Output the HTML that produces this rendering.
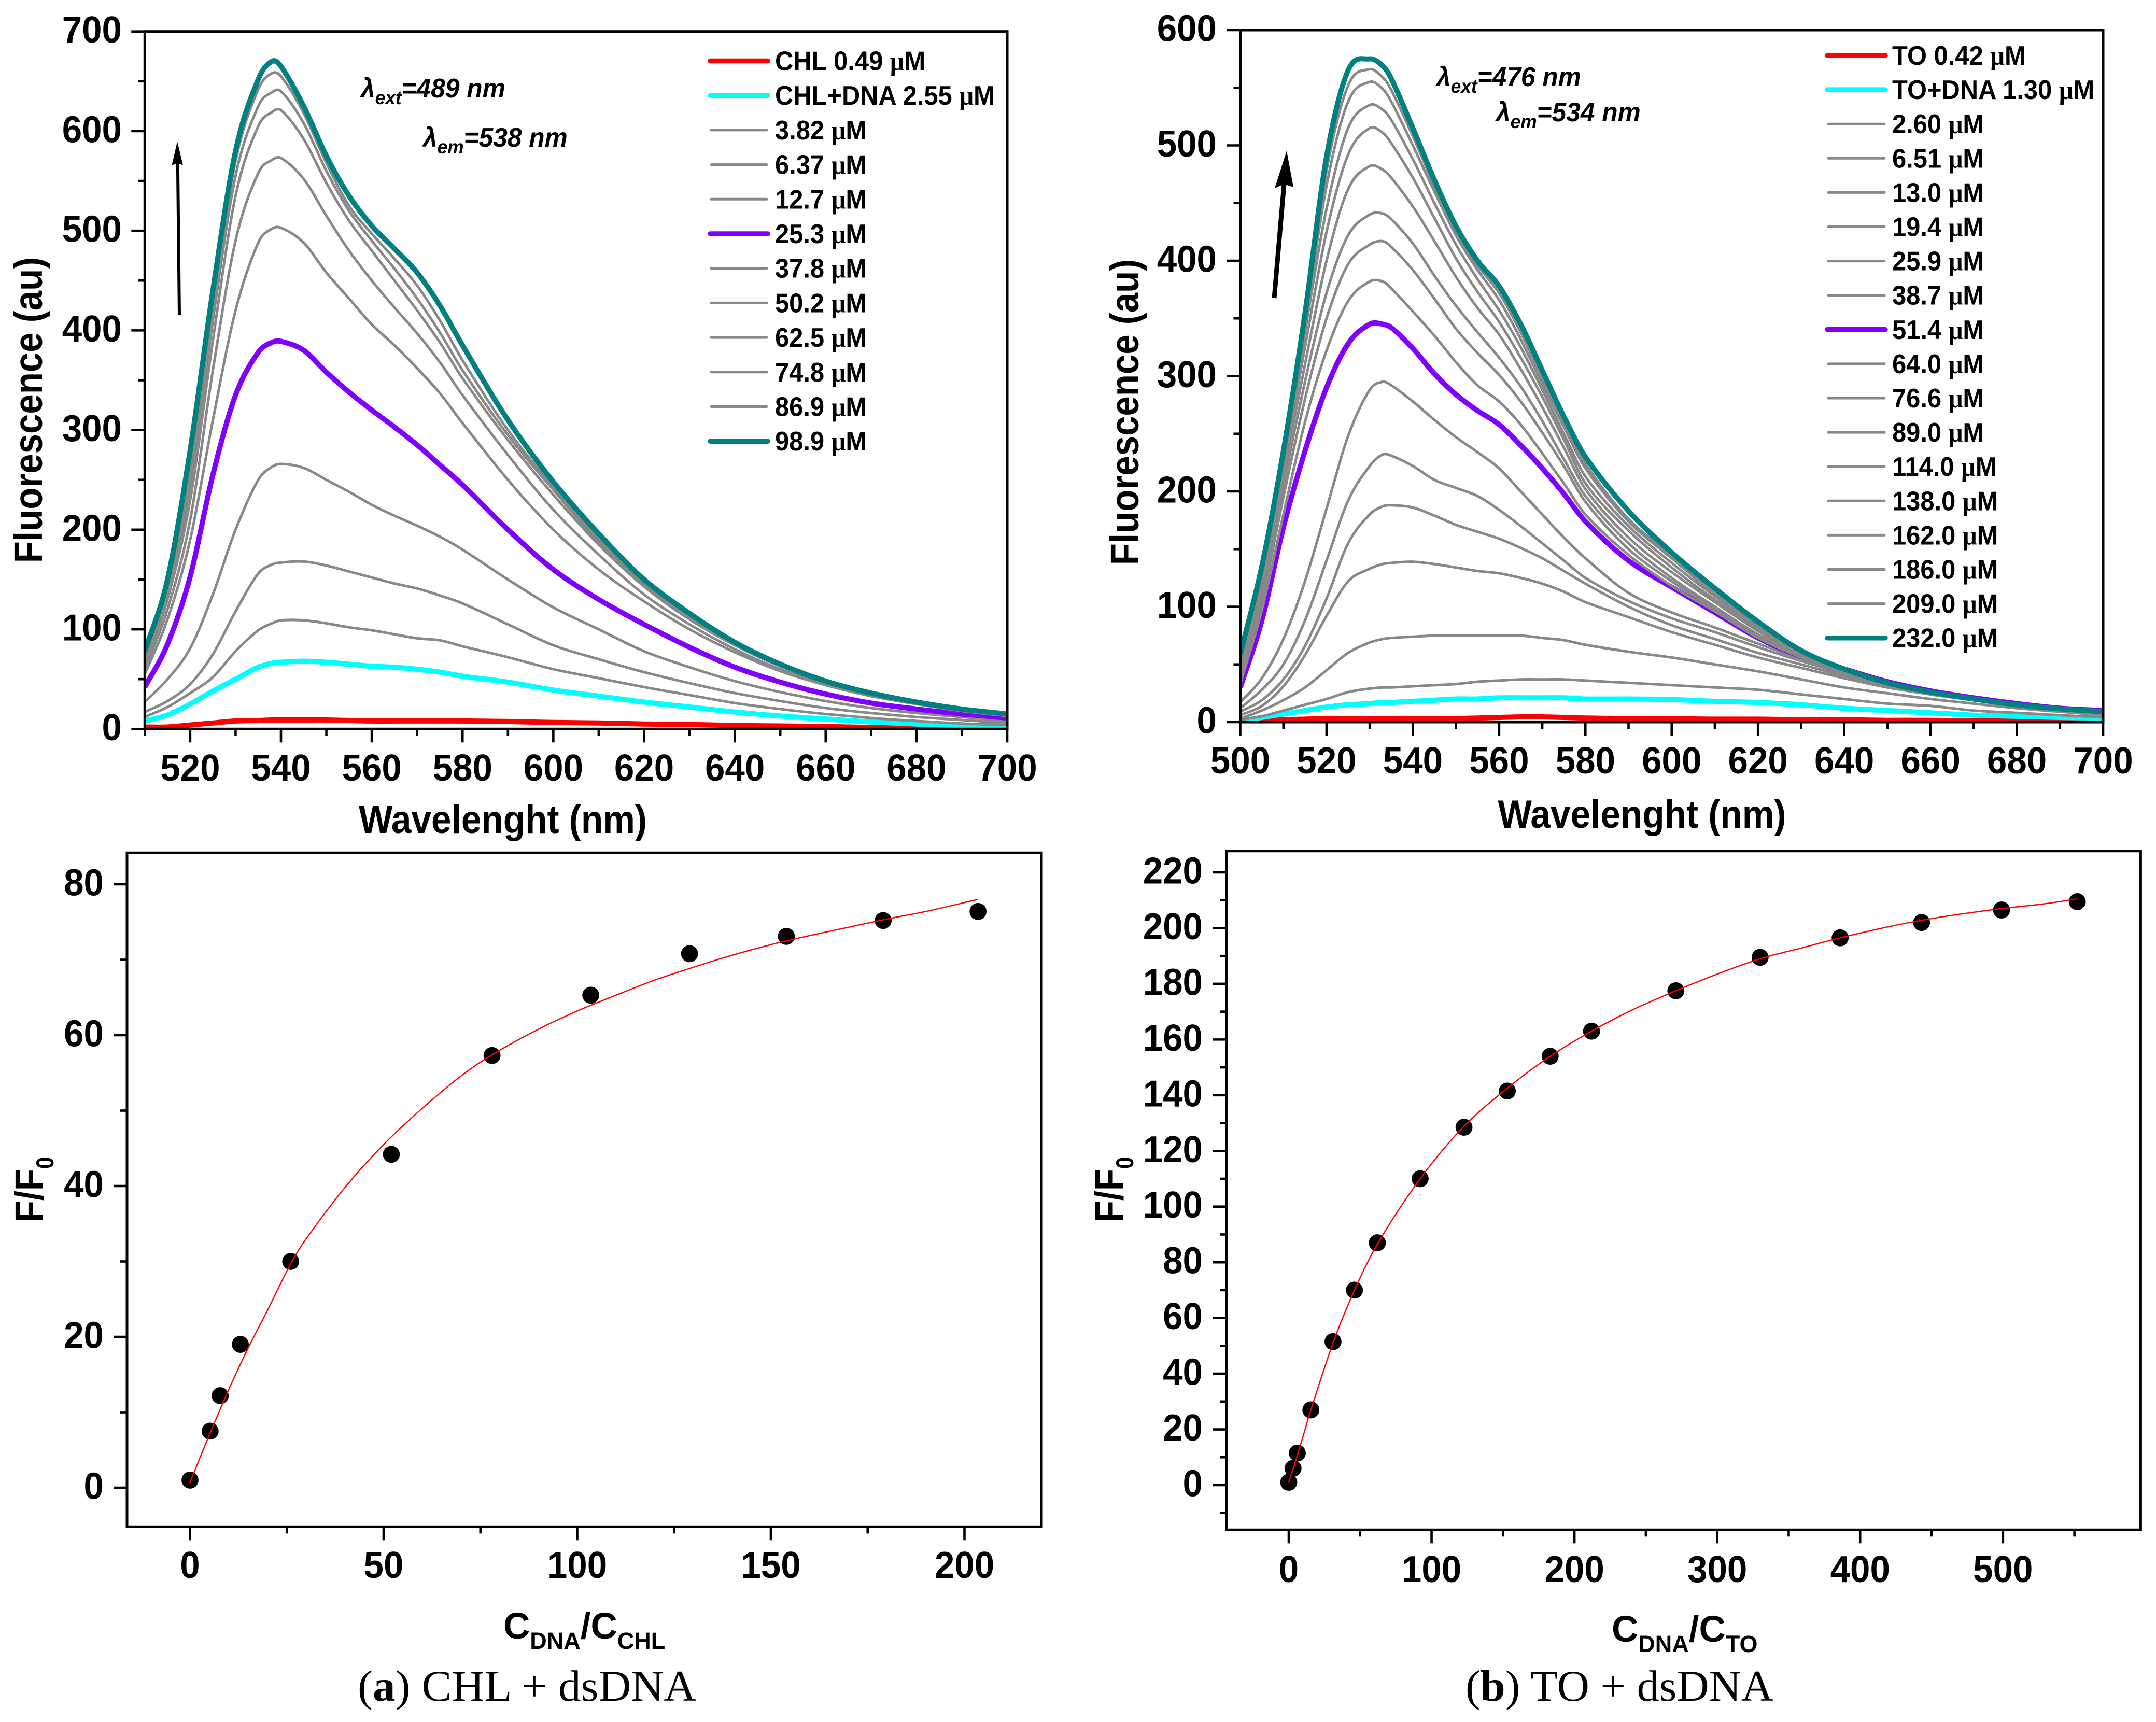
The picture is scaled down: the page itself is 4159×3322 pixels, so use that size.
<!DOCTYPE html>
<html lang="en">
<head>
<meta charset="utf-8">
<title>Fluorescence titration of CHL and TO with dsDNA</title>
<style>
html,body{margin:0;padding:0;background:#fff;}
svg{display:block;}
text{font-family:"Liberation Sans",Arial,sans-serif;font-weight:bold;fill:#000;}
.cap{font-family:"Liberation Serif",serif;font-weight:normal;}
</style>
</head>
<body>
<svg id="fig" xmlns="http://www.w3.org/2000/svg" width="4159" height="3322" viewBox="0 0 4159 3322">
<rect x="0" y="0" width="4159" height="3322" fill="#fff"/>
<g id="panelA"></g>
<g id="panelB"></g>
<g id="panelC"></g>
<g id="panelD"></g>

<text font-size="69" text-anchor="middle" transform="translate(81,791) rotate(-90) scale(1,1.12)">Fluorescence (au)</text>
<text font-size="69" text-anchor="middle" transform="translate(2196,795) rotate(-90) scale(1,1.12)">Fluorescence (au)</text>
<text font-size="69" text-anchor="middle" transform="translate(970,1607) scale(1.005,1.1)">Wavelenght (nm)</text>
<text font-size="69" text-anchor="middle" transform="translate(3167.5,1597) scale(1.005,1.1)">Wavelenght (nm)</text>

<text font-size="69" text-anchor="middle" transform="translate(83,2295) rotate(-90) scale(1,1.12)">F/F<tspan font-size="42" dy="18">0</tspan></text>
<text font-size="69" text-anchor="middle" transform="translate(2166,2295) rotate(-90) scale(1,1.12)">F/F<tspan font-size="42" dy="18">0</tspan></text>
<text font-size="71" x="971" y="3161">C<tspan font-size="45" dy="20">DNA</tspan><tspan dy="-20">/C</tspan><tspan font-size="45" dy="20">CHL</tspan></text>
<text font-size="71" x="3109" y="3167">C<tspan font-size="45" dy="20">DNA</tspan><tspan dy="-20">/C</tspan><tspan font-size="45" dy="20">TO</tspan></text>

<g>
<text font-size="52" font-style="italic" transform="translate(696,188) scale(.955,1)">λ<tspan font-size="37" dy="13">ext</tspan><tspan dy="-13">=489 nm</tspan></text>
<text font-size="52" font-style="italic" transform="translate(816,283) scale(.955,1)">λ<tspan font-size="37" dy="13">em</tspan><tspan dy="-13">=538 nm</tspan></text>
</g>
<g>
<text font-size="52" font-style="italic" transform="translate(2771,166) scale(.955,1)">λ<tspan font-size="37" dy="13">ext</tspan><tspan dy="-13">=476 nm</tspan></text>
<text font-size="52" font-style="italic" transform="translate(2886,234) scale(.955,1)">λ<tspan font-size="37" dy="13">em</tspan><tspan dy="-13">=534 nm</tspan></text>
</g>

<g>
<line x1="346" y1="608" x2="342.8" y2="312" stroke="#000" stroke-width="6"/>
<polygon points="342,273 353,319 342.5,314 331.5,319" fill="#000"/>
</g>
<g>
<line x1="2458" y1="575" x2="2477" y2="355" stroke="#000" stroke-width="9"/>
<polygon points="2482,291 2495,361 2477,355 2459,363" fill="#000"/>
</g>

<text class="cap" font-size="85" transform="translate(690,3281) scale(1.025,1)">(<tspan font-weight="bold">a</tspan>) CHL + dsDNA</text>
<text class="cap" font-size="85" transform="translate(2827,3281) scale(1.015,1)">(<tspan font-weight="bold">b</tspan>) TO + dsDNA</text>
</svg>

<script>
// ---------- Panel A data: CHL emission spectra ----------
const wavelengthsA = [510,515,520,525,530,535,538,540,545,550,555,560,565,570,575,580,590,600,610,620,630,640,650,660,670,680,690,700];
const chlBase  = [2,2,4,6,8,8.5,9,9,9,9,8.5,8,8,8,8,8,7.5,6.5,6,5,4.5,3.5,3,2.5,1.5,1,1,1];
const chlDna   = [8,14,25,38,50,62,66,67,68,67,65,63,62,60,57,53,47,39,33,27,22,17,13,10,7,5,3.5,2];
const chl382   = [12,22,36,52,78,99,106,109,109,106,102,99,95,91,89,83,72,60,51,42,34,26,20,15,11,8,5.5,4];
const chl637   = [17,28,45,75,118,156,165,167,168,164,158,152,146,141,134,126,105,84,70,57,46,36,28,21,16,12,9,6];
const chl127   = [27,50,81,135,200,250,263,266,262,250,238,225,214,204,193,180,150,122,100,78,62,48,37,28,21,16,12,8];
const chl253   = [42,85,153,255,335,378,388,389,380,358,338,320,303,285,265,245,200,160,130,105,82,62,47,35,26,20,15,11];
const chl378   = [55,110,190,310,420,488,502,503,488,458,432,406,385,362,337,307,250,200,160,128,100,77,58,44,33,25,18,13];
const chl502   = [60,120,210,360,490,558,571,573,552,515,480,450,423,397,368,335,275,220,175,135,105,80,60,46,35,26,19,14];
const chl625   = [65,130,230,390,535,605,619,621,592,548,510,480,450,420,388,352,290,235,185,143,110,84,63,48,36,27,20,14];
const chl748   = [70,135,245,410,555,625,639,640,608,560,520,490,462,432,398,360,295,240,188,146,113,85,64,48,36,27,20,14];
const chl869   = [72,140,260,425,570,642,658,655,618,568,525,497,472,445,410,370,300,243,191,148,114,86,64,48,36,27,20,14];
const chl989   = [78,150,280,440,580,652,670,665,625,575,535,505,482,458,425,385,310,248,196,150,116,87,65,48,36,27,20,15];
const seriesA  = [chlBase,chlDna,chl382,chl637,chl127,chl253,chl378,chl502,chl625,chl748,chl869,chl989];
const legendA  = ['CHL 0.49','CHL+DNA 2.55','3.82','6.37','12.7','25.3','37.8','50.2','62.5','74.8','86.9','98.9'];
const xMajorA  = [520,540,560,580,600,620,640,660,680,700];
const xMinorA  = [510,530,550,570,590,610,630,650,670,690];
const yMajorA  = [0,100,200,300,400,500,600,700];
const yMinorA  = [50,150,250,350,450,550,650];

// ---------- Panel B data: TO emission spectra ----------
const wavelengthsB = [500,505,510,515,520,525,530,533,535,540,545,550,555,560,565,570,575,580,590,600,610,620,630,640,650,660,670,680,690,700];
const toBase = [0,1,2,2.5,3,3,3,3,3,3,3,3,3.5,4,4.5,4.5,4,3.5,3,3,2.5,2.5,2,2,1.5,1.5,1,1,1,1];
const toDna  = [1,4,7,10,13,15,16,17,17,18,19,20,20,21,21,21,21,20,20,19.5,18,17,15,12,10,8,6,5,4,3.5];
const to260  = [2,5,10,15,20,26,29,30,30,31,32,33,35,36,37,37,37,36,34,32,30,28,24,20,16,14,10,8,6,4];
const to651  = [3,10,19,30,45,60,69,72,73,74,75,75,75,75,75,73,71,67,61,56,50,44,37,30,25,20,16,12,9,6];
const to130  = [6,14,31,58,92,122,133,137,138,139,137,134,131,129,125,120,113,104,91,78,67,56,47,38,30,24,19,14,10,7];
const to194  = [9,19,37,66,107,155,180,187,188,186,179,171,165,159,151,142,131,120,100,84,72,60,50,40,31,24,19,14,10,7];
const to259  = [12,28,50,88,140,192,222,232,231,222,210,203,196,184,170,155,140,125,105,90,78,65,53,42,33,26,20,15,10,7];
const to387  = [17,38,72,122,185,248,288,295,292,278,262,247,234,220,200,180,160,142,112,95,82,68,55,44,35,27,20,15,11,7.5];
const to514  = [30,88,169,235,290,328,345,345,342,324,302,284,270,258,240,220,198,174,140,117,95,73,57,46,35,27,21,16,12,10];
const to640  = [33,97,180,260,322,365,382,382,376,356,335,312,292,278,258,233,207,180,145,118,96,73,56,43,33,26,20,15,11,8];
const to766  = [37,105,195,280,350,397,414,417,412,392,367,341,320,301,278,251,222,191,150,122,98,75,57,44,33,26,20,15,11,8];
const to890  = [40,110,205,295,372,422,440,441,436,415,387,361,338,316,291,261,228,196,155,125,100,76,58,44,33,26,20,15,11,8];
const to1140 = [45,118,215,310,400,462,482,479,472,447,417,386,359,336,306,273,238,202,160,130,104,79,58,44,33,26,20,15,11,8];
const to1380 = [48,122,222,325,425,492,515,511,502,472,437,402,373,347,316,282,245,207,166,134,106,81,59,44,33,26,20,15,11,8];
const to1620 = [50,125,225,338,445,515,535,531,522,488,450,414,384,357,325,288,250,213,170,138,109,83,60,45,33,26,20,15,11,8];
const to1860 = [52,128,228,345,465,538,555,549,538,500,460,422,392,366,332,293,256,220,174,142,111,84,61,45,34,26,20,15,11,8];
const to2090 = [55,130,232,350,478,552,566,559,548,508,465,426,396,372,338,298,260,224,176,145,113,85,62,46,34,26,20,15,11,8];
const to2320 = [59,135,235,354,490,565,575,569,558,515,470,430,400,378,345,305,265,230,183,147,116,87,62,46,34,26,20,15,11.5,9];
const seriesB = [toBase,toDna,to260,to651,to130,to194,to259,to387,to514,to640,to766,to890,to1140,to1380,to1620,to1860,to2090,to2320];
const legendB = ['TO 0.42','TO+DNA 1.30','2.60','6.51','13.0','19.4','25.9','38.7','51.4','64.0','76.6','89.0','114.0','138.0','162.0','186.0','209.0','232.0'];
const xMajorB = [500,520,540,560,580,600,620,640,660,680,700];
const xMinorB = [510,530,550,570,590,610,630,650,670,690];
const yMajorB = [0,100,200,300,400,500,600];
const yMinorB = [50,150,250,350,450,550];

// ---------- Panel C data: CHL binding ----------
const ratioC  = [0,5.2,7.8,13,26,52,78,103.5,129,154,179,203.5];
const ffC     = [1,7.5,12.2,19,30,44.2,57.3,65.3,70.8,73.1,75.2,76.4];
const fitXC   = [0,5,10,15,20,26,30,40,50,60,70,78,90,100,110,120,130,140,150,160,170,180,190,203.5];
const fitYC   = [0.7,7,13,18.5,23.5,29.7,33,39.8,45.5,50.3,54.6,57.4,60.8,63.2,65.3,67.3,69,70.6,72,73.2,74.3,75.4,76.4,78];
const xMajorC = [0,50,100,150,200];
const xMinorC = [25,75,125,175];
const yMajorC = [0,20,40,60,80];
const yMinorC = [10,30,50,70];

// ---------- Panel D data: TO binding ----------
const ratioD  = [0,3,6,15.5,31,46,62,92,122.7,153,183,212,271,330,386,443,499,552];
const ffD     = [1,6,11.5,27,51.5,70,87,110,128.5,141.5,154,163,177.5,189.5,196.5,202,206.5,209.5];
const fitXD   = [0,5,10,15.5,31,46,62,92,122,153,183,212,240,271,300,330,360,386,420,443,470,499,530,552];
const fitYD   = [1,9,17.5,27,51,70,86.5,110,128.5,142.5,154,163,170.5,177.5,183.5,189,193,196.5,200.5,202.8,205,207,208.8,210.5];
const xMajorD = [0,100,200,300,400,500];
const xMinorD = [50,150,250,350,450,550];
const yMajorD = [0,20,40,60,80,100,120,140,160,180,200,220];
const yMinorD = [-10,10,30,50,70,90,110,130,150,170,190,210];

const NS = 'http://www.w3.org/2000/svg';
function node(parent, tag, attrs){
  const el = document.createElementNS(NS, tag);
  for (const k in attrs) el.setAttribute(k, attrs[k]);
  parent.appendChild(el);
  return el;
}
function linear(d0,d1,r0,r1){ return v => r0 + (v-d0)*(r1-r0)/(d1-d0); }

function smoothPath(px, py){
  const n = px.length, m = [];
  for (let i=0;i<n;i++){
    const a = Math.max(i-1,0), b = Math.min(i+1,n-1);
    m[i] = (py[b]-py[a])/(px[b]-px[a]);
  }
  let d = 'M'+px[0].toFixed(1)+' '+py[0].toFixed(1);
  for (let i=0;i<n-1;i++){
    const h = (px[i+1]-px[i])/3;
    d += 'C'+(px[i]+h).toFixed(1)+' '+(py[i]+m[i]*h).toFixed(1)+' '+
         (px[i+1]-h).toFixed(1)+' '+(py[i+1]-m[i+1]*h).toFixed(1)+' '+
         px[i+1].toFixed(1)+' '+py[i+1].toFixed(1);
  }
  return d;
}

function drawAxes(g, cfg){
  const sx = cfg.sx, sy = cfg.sy, f = cfg.frame, TICK = 'stroke:#000;stroke-width:4.6';
  cfg.xMajor.forEach(v => {
    const tick = node(g,'line',{x1:sx(v),x2:sx(v),y1:f[3],y2:f[3]+26,style:TICK});
    
    
    const lab = node(g,'text',{'font-size':72,'text-anchor':'middle',transform:'translate('+sx(v)+','+cfg.xLabelY+') scale(.96,1)'});
    lab.textContent = v;
    
    
  });
  cfg.xMinor.forEach(v => {
    const tick = node(g,'line',{x1:sx(v),x2:sx(v),y1:f[3],y2:f[3]+13,style:TICK});
    
    
  });
  cfg.yMajor.forEach(v => {
    const tick = node(g,'line',{x1:f[0]-26,x2:f[0],y1:sy(v),y2:sy(v),style:TICK});
    
    
    const lab = node(g,'text',{'font-size':72,'text-anchor':'end',transform:'translate('+cfg.yLabelX+','+(sy(v)+21.5)+') scale(.96,1)'});
    lab.textContent = v;
    
    
  });
  cfg.yMinor.forEach(v => {
    const tick = node(g,'line',{x1:f[0]-13,x2:f[0],y1:sy(v),y2:sy(v),style:TICK});
    
    
  });
  const frame = node(g,'rect',{x:f[0],y:f[1],width:f[2]-f[0],height:f[3]-f[1],fill:'none',stroke:'#000','stroke-width':5});
  
  
}

function seriesStyle(i, n, purpleIndex){
  if (i === 0) return {c:'#ff0000', w:10};
  if (i === 1) return {c:'#00ffff', w:10};
  if (i === purpleIndex) return {c:'#8000ff', w:10};
  if (i === n-1) return {c:'#008080', w:10};
  return {c:'#888888', w:5};
}

function drawSpectra(g, cfg){
  const sx = cfg.sx, sy = cfg.sy, f = cfg.frame;
  const clipId = cfg.id + '-clip';
  const defs = node(g,'defs',{});
  const cp = node(defs,'clipPath',{id:clipId});
  node(cp,'rect',{x:f[0],y:f[1],width:f[2]-f[0],height:f[3]-f[1]});
  const curves = node(g,'g',{'clip-path':'url(#'+clipId+')'});
  
  
  const px = cfg.wl.map(sx);
  cfg.series.forEach((vals,i) => {
    const st = seriesStyle(i, cfg.series.length, cfg.purple);
    const path = node(curves,'path',{d:smoothPath(px, vals.map(sy)),fill:'none',stroke:st.c,'stroke-width':st.w,'stroke-linejoin':'round'});
    
    
  });
  drawAxes(g,cfg);
  const lg = node(g,'g',{});
  
  
  cfg.legend.forEach((label,i) => {
    const st = seriesStyle(i, cfg.series.length, cfg.purple);
    const y = cfg.legY + i*cfg.legStep;
    const entry = node(lg,'g',{});
    
    
    node(entry,'line',{x1:cfg.legX0+(st.w>5?3:5),x2:cfg.legX1-(st.w>5?3:5),y1:y,y2:y,stroke:st.c,'stroke-width':st.w>5?9.5:5,'stroke-linecap':'round'});
    const t = node(entry,'text',{'font-size':52,transform:'translate('+cfg.legTextX+','+(y+18)+') scale(.94,1)'});
    t.appendChild(document.createTextNode(label+' '));
    const mu = node(t,'tspan',{'font-family':'"Liberation Serif",serif'});
    mu.textContent = 'μ';
    t.appendChild(document.createTextNode('M'));
  });
}

function drawBinding(g, cfg){
  const sx = cfg.sx, sy = cfg.sy;
  drawAxes(g,cfg);
  cfg.ratio.forEach((x,i) => {
    const dot = node(g,'circle',{cx:sx(x),cy:sy(cfg.ff[i]),r:16.4,fill:'#000'});
    
    
  });
  const fit = node(g,'path',{d:smoothPath(cfg.fitX.map(sx),cfg.fitY.map(sy)),fill:'none',stroke:'#ff0000','stroke-width':2.4});
  
  
}

drawSpectra(document.getElementById('panelA'),{
  id:'a', sx:linear(510,700,279.3,1943), sy:linear(0,700,1406.3,60.7),
  frame:[279.3,60.7,1943,1406.3], wl:wavelengthsA, series:seriesA, legend:legendA, purple:5,
  xMajor:xMajorA, xMinor:xMinorA, yMajor:yMajorA, yMinor:yMinorA, xLabelY:1506, yLabelX:235,
  legX0:1367, legX1:1484, legTextX:1495, legY:117.5, legStep:66.7
});
drawSpectra(document.getElementById('panelB'),{
  id:'b', sx:linear(500,700,2392.5,4057), sy:linear(0,600,1393,58),
  frame:[2392.5,58,4057,1393], wl:wavelengthsB, series:seriesB, legend:legendB, purple:8,
  xMajor:xMajorB, xMinor:xMinorB, yMajor:yMajorB, yMinor:yMinorB, xLabelY:1492, yLabelX:2347,
  legX0:3522, legX1:3640, legTextX:3650, legY:107, legStep:66.1
});
drawBinding(document.getElementById('panelC'),{
  sx:linear(0,200,366.5,1860.5), sy:linear(0,80,2870,1706),
  frame:[245,1645.3,2009,2945.3], ratio:ratioC, ff:ffC, fitX:fitXC, fitY:fitYC,
  xMajor:xMajorC, xMinor:xMinorC, yMajor:yMajorC, yMinor:yMinorC, xLabelY:3044, yLabelX:200
});
drawBinding(document.getElementById('panelD'),{
  sx:linear(0,500,2486,3863.8), sy:linear(0,220,2865,1683),
  frame:[2366,1641.7,4129.4,2951.3], ratio:ratioD, ff:ffD, fitX:fitXD, fitY:fitYD,
  xMajor:xMajorD, xMinor:xMinorD, yMajor:yMajorD, yMinor:yMinorD, xLabelY:3052, yLabelX:2320
});
</script>
</body>
</html>
